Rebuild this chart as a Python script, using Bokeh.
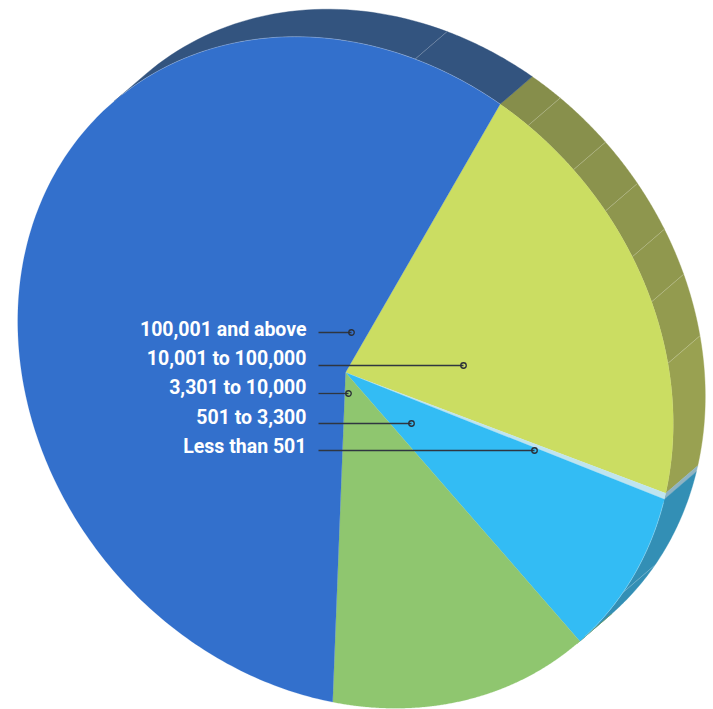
import numpy as np
from bokeh.plotting import figure
from bokeh.models import Range1d
from bokeh.core.properties import value
from bokeh.embed import file_html
from bokeh.resources import INLINE

# Data
categories = ["100,001 and above", "10,001 to 100,000", "3,301 to 10,000", "501 to 3,300", "Less than 501"]
shares = [57.2, 20.6, 13.3, 8.6, 0.3]
# Drawing order round the pie, clockwise from the start angle
pie_order = [1, 4, 3, 2, 0]

# Styles
top_colors = ["#3370cc", "#cbdd62", "#8fc66f", "#33bcf4", "#bfe4ef"]
side_from = ["#33547f", "#858d4b", "#6d9a55", "#338fb5", "#8fb3c2"]
side_to = ["#33547f", "#9ca452", "#6d9a55", "#338fb5", "#8fb3c2"]
label_centers = [329, 358, 387, 417, 446]
leader_y = [332, 365, 393, 423, 450]
leader_end = [351, 463, 348, 411, 534]

# Projection of the tilted disc
CX, CY = 345.0, 372.0
MAJOR, MINOR = 356.7, 305.3
U = (0.649, 0.760)
V = (0.760, -0.649)
DEPTH = (32.0, -27.5)
START = 106.9
SEAMS = [122.8, 101.2, 91.0, 82.6, 74.0, 66.0, 55.4, 12.9]


def rim(deg, off=0.0):
    a = np.radians(deg)
    c, s = MAJOR * np.cos(a), MINOR * np.sin(a)
    return CX + c * U[0] + s * V[0] + off * DEPTH[0], CY + c * U[1] + s * V[1] + off * DEPTH[1]


def mix(a, b, t):
    ca = [int(a[i:i + 2], 16) for i in (1, 3, 5)]
    cb = [int(b[i:i + 2], 16) for i in (1, 3, 5)]
    return "#%02x%02x%02x" % tuple(round(x + (y - x) * t) for x, y in zip(ca, cb))


p = figure(width=713, height=709, x_range=Range1d(0, 713), y_range=Range1d(709, 0),
           output_backend="svg", toolbar_location=None, min_border=0,
           outline_line_color=None, background_fill_color="white", border_fill_color="white")
p.axis.visible = False
p.grid.visible = False

# Slice spans
spans = []
ang = START
for i in pie_order:
    sweep = shares[i] / sum(shares) * 360.0
    spans.append((i, ang, ang - sweep))
    ang -= sweep

# Side wall: only the half of the rim that faces the depth direction is visible
for i, a0, a1 in spans:
    for shift in (0.0, 360.0):
        hi = min(a0 + shift, 180.0)
        lo = max(a1 + shift, 0.0)
        if hi <= lo:
            continue
        cuts = sorted([lo, hi] + [s for s in SEAMS if lo < s < hi], reverse=True)
        for k in range(len(cuts) - 1):
            th = np.linspace(cuts[k], cuts[k + 1], 40)
            x0, y0 = rim(th)
            x1, y1 = rim(th[::-1], 1.0)
            t = (START - (cuts[k] + cuts[k + 1]) / 2) / (START - 32.8)
            col = mix(side_from[i], side_to[i], min(max(t, 0), 1))
            p.patch(np.r_[x0, x1], np.r_[y0, y1], fill_color=col, line_color=col, line_width=0.4)

# Seams on the side wall
for s in SEAMS:
    xa, ya = rim(s, 0.0)
    xb, yb = rim(s, 1.0)
    p.line([xa, xb], [ya, yb], line_color="#ffffff", line_alpha=0.28, line_width=0.8)

# Top face
for i, a0, a1 in spans:
    th = np.linspace(a0, a1, 240)
    x, y = rim(th)
    p.patch(np.r_[CX, x], np.r_[CY, y], fill_color=top_colors[i], line_color=top_colors[i], line_width=0.2)

# Light edge where the blue faces meet their walls
for a_hi, a_lo in ((178, START), (31, 2)):
    rx, ry = rim(np.linspace(a_hi, a_lo, 300))
    p.line(rx, ry, line_color="#ffffff", line_alpha=0.3, line_width=0.9)

# Labels and leaders
p.text([306] * 5, label_centers, text=categories, text_align="right", text_baseline="middle",
       text_color="#ffffff", text_font=value("Roboto"), text_font_style="bold",
       text_font_size="19.5px")
for yy, xe in zip(leader_y, leader_end):
    p.line([318, xe], [yy, yy], line_color="#2f3640", line_width=1.3)
p.scatter(leader_end, leader_y, size=5.5, marker="circle", fill_alpha=0, line_color="#2b2f38", line_width=1.3)

open("out.html", "w").write(file_html(p, INLINE))
